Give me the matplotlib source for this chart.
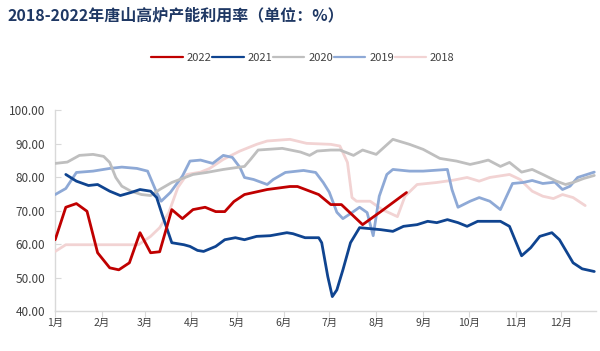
import matplotlib
matplotlib.use("Agg")
import matplotlib.pyplot as plt

plt.rcParams['font.family'] = ['Noto Sans CJK SC', 'DejaVu Sans']

# x = day of year (0 = Jan 1), y = utilisation %
d2022 = [0, 7, 14, 21, 28, 36, 42, 49, 56, 63, 69, 77, 84, 91, 99, 106, 112, 118, 125, 140, 155, 160, 174, 182, 189, 203, 215, 232]
v2022 = [61.3, 71.0, 72.1, 69.8, 57.4, 52.9, 52.3, 54.4, 63.4, 57.4, 57.7, 70.3, 67.6, 70.3, 71.0, 69.7, 69.7, 72.7, 74.8, 76.3, 77.2, 77.2, 74.8, 71.8, 71.8, 65.8, 69.7, 75.4]

d2021 = [7, 14, 22, 28, 36, 43, 50, 56, 63, 67, 71, 77, 85, 89, 94, 98, 106, 112, 119, 125, 133, 142, 153, 157, 165, 174, 176, 180, 183, 186, 190, 195, 201, 208, 215, 223, 230, 239, 246, 252, 259, 266, 272, 279, 294, 300, 308, 314, 320, 328, 333, 342, 348, 356]
v2021 = [80.8, 78.8, 77.5, 77.8, 75.8, 74.5, 75.4, 76.3, 75.8, 73.9, 68.3, 60.4, 59.8, 59.3, 58.1, 57.8, 59.3, 61.3, 61.9, 61.3, 62.3, 62.5, 63.4, 63.1, 61.9, 61.9, 60.4, 50.3, 44.3, 46.3, 52.3, 60.4, 64.9, 64.6, 64.3, 63.8, 65.3, 65.8, 66.8, 66.4, 67.3, 66.4, 65.3, 66.8, 66.8, 65.3, 56.5, 58.9, 62.3, 63.4, 61.3, 54.4, 52.6, 51.8]

d2020 = [0, 8, 16, 25, 32, 36, 40, 44, 50, 57, 63, 69, 77, 84, 91, 100, 111, 125, 129, 134, 150, 162, 168, 173, 182, 188, 197, 203, 212, 223, 234, 243, 254, 265, 274, 280, 286, 294, 300, 308, 315, 322, 331, 337, 342, 349, 356]
v2020 = [84.1, 84.5, 86.5, 86.8, 86.2, 84.4, 79.9, 77.3, 75.8, 74.8, 74.5, 76.3, 78.4, 79.6, 80.8, 81.4, 82.3, 83.2, 85.3, 88.1, 88.6, 87.5, 86.5, 87.8, 88.1, 88.1, 86.5, 88.1, 86.8, 91.3, 89.8, 88.3, 85.6, 84.8, 83.8, 84.4, 85.1, 83.2, 84.4, 81.5, 82.3, 80.8, 78.8, 77.8, 78.4, 79.6, 80.5]

d2019 = [0, 7, 14, 25, 36, 44, 54, 61, 67, 70, 76, 84, 89, 96, 104, 111, 117, 122, 125, 131, 140, 144, 152, 164, 172, 177, 181, 186, 190, 196, 201, 206, 210, 214, 219, 223, 234, 243, 259, 262, 266, 274, 280, 287, 294, 302, 309, 315, 322, 330, 335, 340, 345, 356]
v2019 = [74.8, 76.6, 81.4, 81.8, 82.6, 83.0, 82.6, 81.8, 75.4, 72.8, 75.4, 80.3, 84.8, 85.1, 84.1, 86.5, 85.9, 82.9, 79.9, 79.3, 77.8, 79.3, 81.4, 82.0, 81.4, 78.4, 75.5, 69.5, 67.6, 69.4, 71.0, 69.4, 62.5, 74.3, 80.8, 82.3, 81.8, 81.8, 82.3, 76.3, 71.0, 72.8, 73.9, 72.8, 70.3, 78.1, 78.4, 79.0, 78.1, 78.5, 76.3, 77.3, 79.9, 81.5]

d2018 = [0, 7, 18, 41, 55, 63, 69, 75, 81, 87, 96, 102, 111, 122, 133, 140, 155, 166, 182, 188, 193, 196, 199, 208, 216, 226, 231, 239, 252, 263, 272, 280, 287, 300, 307, 315, 322, 329, 335, 342, 350]
v2018 = [57.8, 59.8, 59.8, 59.8, 59.8, 62.3, 64.9, 69.4, 76.9, 80.8, 81.5, 82.6, 85.3, 87.8, 89.8, 90.8, 91.3, 90.1, 89.8, 89.3, 84.4, 73.9, 72.8, 72.8, 70.3, 68.2, 74.3, 77.8, 78.4, 79.1, 79.9, 78.8, 79.9, 80.8, 79.3, 75.8, 74.3, 73.6, 74.8, 73.9, 71.5]

month_days = [0, 31, 59, 90, 120, 151, 181, 212, 243, 273, 304, 334]
month_labels = ['1月', '2月', '3月', '4月', '5月', '6月', '7月', '8月', '9月', '10月', '11月', '12月']
yticks = [40, 50, 60, 70, 80, 90, 100]

fig = plt.figure(figsize=(6, 3.51), dpi=100)
ax = fig.add_axes([0.092, 0.114, 0.901, 0.572])

series = [
    ('2022', d2022, v2022, '#C00000'),
    ('2021', d2021, v2021, '#0F4490'),
    ('2020', d2020, v2020, '#BFBFBF'),
    ('2019', d2019, v2019, '#8EA9D6'),
    ('2018', d2018, v2018, '#F2D3D3'),
]
# draw in reverse so 2022 sits on top, legend keeps order
handles = {}
for i, (name, d, v, c) in reversed(list(enumerate(series))):
    h, = ax.plot(d, v, color=c, lw=2.0, solid_joinstyle='round', solid_capstyle='round', zorder=10 - i)
    handles[name] = h

ax.set_xlim(0, 357)
ax.set_ylim(40, 100)
ax.set_xticks(month_days)
ax.set_xticklabels(month_labels)
ax.set_yticks(yticks)
ax.set_yticklabels(['%.2f' % y for y in yticks])

for s in ['top', 'right']:
    ax.spines[s].set_visible(False)
for s in ['left', 'bottom']:
    ax.spines[s].set_color('#D9D9D9')
    ax.spines[s].set_linewidth(1.0)
ax.tick_params(axis='y', direction='in', length=4, color='#D9D9D9', labelsize=8.5, labelcolor='#404040', pad=7)
ax.tick_params(axis='x', direction='out', length=4, color='#D9D9D9', labelsize=7.5, labelcolor='#404040', pad=1)

names = [s[0] for s in series]
leg = fig.legend([handles[n] for n in names], names, loc='center', bbox_to_anchor=(0.505, 0.835), ncol=5,
                 frameon=False, fontsize=8, handlelength=2.8, handletextpad=0.35, columnspacing=0.1,
                 labelcolor='#404040')
for lh in leg.get_lines():
    lh.set_linewidth(1.6)

fig.text(0.013, 0.955, '2018-2022年唐山高炉产能利用率（单位：%）', fontsize=11.5, fontweight='bold',
         color='#1F3864', ha='left', va='center')

fig.savefig('out.png', dpi=100)
